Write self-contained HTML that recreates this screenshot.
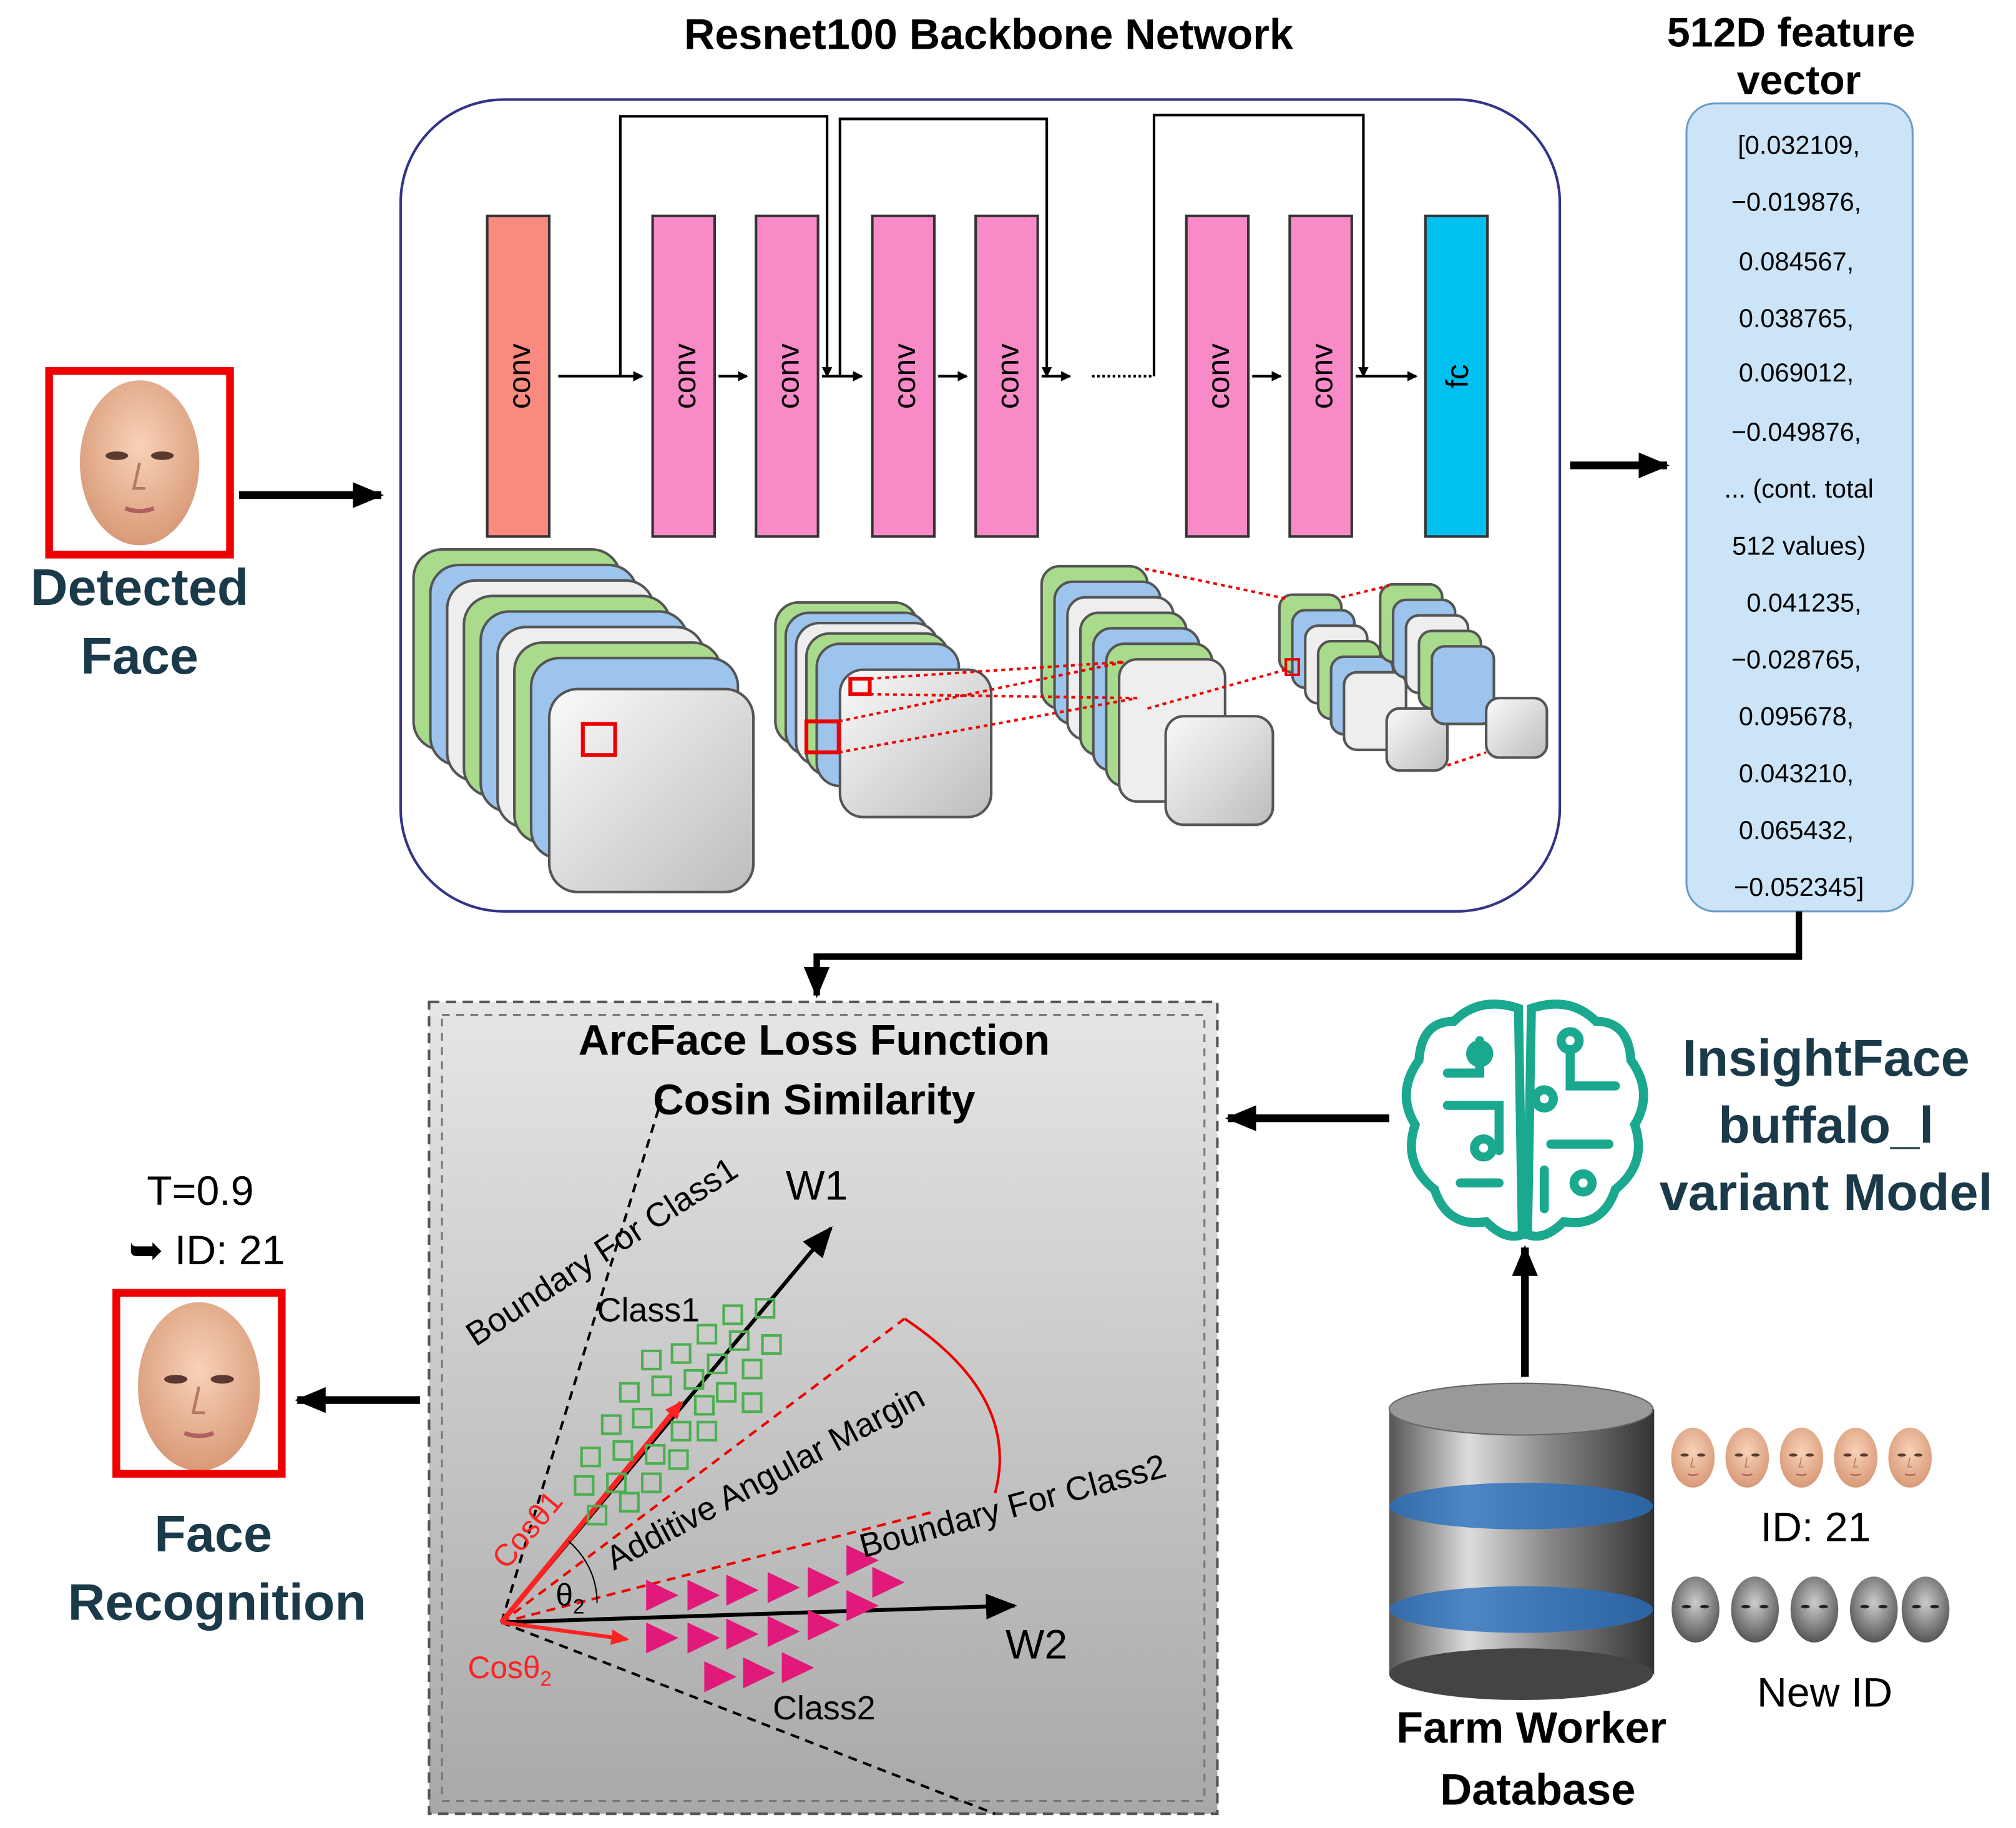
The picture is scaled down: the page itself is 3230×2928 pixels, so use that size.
<!DOCTYPE html>
<html><head><meta charset="utf-8"><style>
html,body{margin:0;padding:0;background:#fff;}
svg{display:block;}
text{font-family:"Liberation Sans",Arial,sans-serif;}
</style></head><body>
<svg width="3230" height="2928" viewBox="0 0 1560 1414" preserveAspectRatio="none" xmlns="http://www.w3.org/2000/svg">
<defs>
<marker id="ah" markerWidth="8" markerHeight="8" refX="7" refY="4" orient="auto" markerUnits="userSpaceOnUse"><path d="M0,0 L8,4 L0,8 z" fill="#000"/></marker>
<marker id="ahr" markerWidth="14" markerHeight="12" refX="12" refY="6" orient="auto" markerUnits="userSpaceOnUse"><path d="M0,0 L14,6 L0,12 z" fill="#f22"/></marker>
<marker id="ahb" markerWidth="24" markerHeight="20" refX="22" refY="10" orient="auto" markerUnits="userSpaceOnUse"><path d="M0,0 L24,10 L0,20 z" fill="#000"/></marker>
<linearGradient id="gbox" x1="0" y1="0" x2="0" y2="1"><stop offset="0" stop-color="#e6e6e6"/><stop offset="1" stop-color="#a8a8a8"/></linearGradient>
<linearGradient id="gmap" x1="0" y1="0" x2="1" y2="1"><stop offset="0" stop-color="#fafafa"/><stop offset="1" stop-color="#bdbdbd"/></linearGradient>
<linearGradient id="gdb" x1="0" y1="0" x2="1" y2="0"><stop offset="0" stop-color="#555"/><stop offset=".3" stop-color="#ddd"/><stop offset=".6" stop-color="#888"/><stop offset="1" stop-color="#333"/></linearGradient>
<radialGradient id="skin" cx=".5" cy=".4" r=".6"><stop offset="0" stop-color="#f8d2b8"/><stop offset="1" stop-color="#d89a78"/></radialGradient>
<radialGradient id="grey" cx=".5" cy=".4" r=".6"><stop offset="0" stop-color="#ccc"/><stop offset="1" stop-color="#555"/></radialGradient>
<symbol id="face" viewBox="0 0 100 120"><ellipse cx="50" cy="60" rx="42" ry="58" fill="url(#skin)"/><ellipse cx="34" cy="55" rx="8" ry="3" fill="#5a3a30"/><ellipse cx="66" cy="55" rx="8" ry="3" fill="#5a3a30"/><path d="M50 60 L46 78 L54 78" fill="none" stroke="#b57a5e" stroke-width="2"/><path d="M40 92 Q50 96 60 92" stroke="#b06060" stroke-width="3" fill="none"/></symbol>
<symbol id="gface" viewBox="0 0 100 120"><ellipse cx="50" cy="60" rx="42" ry="58" fill="url(#grey)"/><ellipse cx="34" cy="55" rx="8" ry="3" fill="#222"/><ellipse cx="66" cy="55" rx="8" ry="3" fill="#222"/></symbol>
</defs>

<!-- Titles -->
<text x="765" y="38" font-size="33" font-weight="bold" text-anchor="middle">Resnet100 Backbone Network</text>
<text x="1386" y="36" font-size="32" font-weight="bold" text-anchor="middle">512D feature</text>
<text x="1392" y="73" font-size="32" font-weight="bold" text-anchor="middle">vector</text>

<!-- Backbone box -->
<rect x="310" y="77" width="897" height="628" rx="80" fill="#fff" stroke="#33338a" stroke-width="2"/>

<!-- skip connections -->
<g stroke="#000" stroke-width="2" fill="none">
<path d="M480 291 V90 H640 V291" marker-end="url(#ah)"/>
<path d="M650 291 V92 H810 V291" marker-end="url(#ah)"/>
<path d="M893 291 V89 H1055 V291" marker-end="url(#ah)"/>
<path d="M432 291 H497" marker-end="url(#ah)"/>
<path d="M556 291 H578" marker-end="url(#ah)"/>
<path d="M636 291 H667" marker-end="url(#ah)"/>
<path d="M726 291 H748" marker-end="url(#ah)"/>
<path d="M806 291 H828" marker-end="url(#ah)"/>
<path d="M845 291 H892" stroke-dasharray="2 2"/>
<path d="M969 291 H991" marker-end="url(#ah)"/>
<path d="M1049 291 H1096" marker-end="url(#ah)"/>
</g>
<!-- conv bars -->
<g stroke="#333" stroke-width="2">
<rect x="377" y="167" width="48" height="248" fill="#fa8a80"/>
<rect x="505" y="167" width="48" height="248" fill="#f98ac8"/>
<rect x="585" y="167" width="48" height="248" fill="#f98ac8"/>
<rect x="675" y="167" width="48" height="248" fill="#f98ac8"/>
<rect x="755" y="167" width="48" height="248" fill="#f98ac8"/>
<rect x="918" y="167" width="48" height="248" fill="#f98ac8"/>
<rect x="998" y="167" width="48" height="248" fill="#f98ac8"/>
<rect x="1103" y="167" width="48" height="248" fill="#00c0f0"/>
</g>
<g font-size="24" text-anchor="middle">
<text transform="translate(410,291) rotate(-90)">conv</text>
<text transform="translate(538,291) rotate(-90)">conv</text>
<text transform="translate(618,291) rotate(-90)">conv</text>
<text transform="translate(708,291) rotate(-90)">conv</text>
<text transform="translate(788,291) rotate(-90)">conv</text>
<text transform="translate(951,291) rotate(-90)">conv</text>
<text transform="translate(1031,291) rotate(-90)">conv</text>
<text transform="translate(1136,291) rotate(-90)">fc</text>
</g>

<!-- feature maps -->
<g stroke-width="2">
<g stroke="#555">
<rect x="320" y="425" width="160" height="155" rx="22" fill="#a8dc8c"/>
<rect x="333" y="437" width="160" height="155" rx="22" fill="#9cc4ec"/>
<rect x="346" y="449" width="160" height="155" rx="22" fill="#eee"/>
<rect x="359" y="461" width="160" height="155" rx="22" fill="#a8dc8c"/>
<rect x="372" y="473" width="160" height="155" rx="22" fill="#9cc4ec"/>
<rect x="385" y="485" width="160" height="155" rx="22" fill="#eee"/>
<rect x="398" y="497" width="160" height="155" rx="22" fill="#a8dc8c"/>
<rect x="411" y="509" width="160" height="155" rx="22" fill="#9cc4ec"/>
<rect x="425" y="533" width="158" height="157" rx="22" fill="url(#gmap)"/>
</g>
<rect x="451" y="560" width="25" height="24" fill="none" stroke="#e00" stroke-width="3"/>
<g stroke="#555">
<rect x="600" y="466" width="110" height="110" rx="18" fill="#a8dc8c"/>
<rect x="608" y="474" width="110" height="110" rx="18" fill="#9cc4ec"/>
<rect x="616" y="482" width="110" height="110" rx="18" fill="#eee"/>
<rect x="624" y="490" width="110" height="110" rx="18" fill="#a8dc8c"/>
<rect x="632" y="498" width="110" height="110" rx="18" fill="#9cc4ec"/>
<rect x="650" y="518" width="117" height="114" rx="18" fill="url(#gmap)"/>
</g>
<rect x="624" y="558" width="25" height="24" fill="none" stroke="#e00" stroke-width="3"/>
<rect x="658" y="525" width="15" height="12" fill="none" stroke="#e00" stroke-width="3"/>
<g stroke="#555">
<rect x="806" y="438" width="82" height="110" rx="14" fill="#a8dc8c"/>
<rect x="816" y="450" width="82" height="110" rx="14" fill="#9cc4ec"/>
<rect x="826" y="462" width="82" height="110" rx="14" fill="#eee"/>
<rect x="836" y="474" width="82" height="110" rx="14" fill="#a8dc8c"/>
<rect x="846" y="486" width="82" height="110" rx="14" fill="#9cc4ec"/>
<rect x="856" y="498" width="82" height="110" rx="14" fill="#a8dc8c"/>
<rect x="866" y="510" width="82" height="110" rx="14" fill="#eee"/>
<rect x="902" y="554" width="83" height="84" rx="14" fill="url(#gmap)"/>
</g>
<g stroke="#555">
<rect x="990" y="460" width="48" height="60" rx="10" fill="#a8dc8c"/>
<rect x="1000" y="472" width="48" height="60" rx="10" fill="#9cc4ec"/>
<rect x="1010" y="484" width="48" height="60" rx="10" fill="#eee"/>
<rect x="1020" y="496" width="48" height="60" rx="10" fill="#a8dc8c"/>
<rect x="1030" y="508" width="48" height="60" rx="10" fill="#9cc4ec"/>
<rect x="1040" y="520" width="48" height="60" rx="10" fill="#eee"/>
<rect x="1073" y="548" width="47" height="48" rx="10" fill="url(#gmap)"/>
<rect x="1068" y="452" width="48" height="60" rx="10" fill="#a8dc8c"/>
<rect x="1078" y="464" width="48" height="60" rx="10" fill="#9cc4ec"/>
<rect x="1088" y="476" width="48" height="60" rx="10" fill="#eee"/>
<rect x="1098" y="488" width="48" height="60" rx="10" fill="#a8dc8c"/>
<rect x="1108" y="500" width="48" height="60" rx="10" fill="#9cc4ec"/>
<rect x="1150" y="540" width="47" height="46" rx="10" fill="url(#gmap)"/>
</g>
<g stroke="#e00" stroke-dasharray="3 3" fill="none" stroke-width="2">
<path d="M673 525 L870 512 M649 582 L880 540 M649 558 L870 512 M673 537 L880 540"/>
<path d="M886 440 L995 463 M888 548 L995 518 M1038 462 L1075 453 M1120 592 L1150 582"/>
</g>
<rect x="995" y="510" width="10" height="12" fill="none" stroke="#e00" stroke-width="2"/>
</g>

<!-- Feature vector -->
<rect x="1305" y="80" width="175" height="625" rx="22" fill="#cce4f7" stroke="#6e9cc8" stroke-width="1.5"/>
<g font-size="20" text-anchor="middle">
<text x="1392" y="119">[0.032109,</text>
<text x="1390" y="163">−0.019876,</text>
<text x="1390" y="209">0.084567,</text>
<text x="1390" y="253">0.038765,</text>
<text x="1390" y="295">0.069012,</text>
<text x="1390" y="341">−0.049876,</text>
<text x="1392" y="385">... (cont. total</text>
<text x="1392" y="429">512 values)</text>
<text x="1396" y="473">0.041235,</text>
<text x="1390" y="517">−0.028765,</text>
<text x="1390" y="561">0.095678,</text>
<text x="1390" y="605">0.043210,</text>
<text x="1390" y="649">0.065432,</text>
<text x="1392" y="693">−0.052345]</text>
</g>
<line x1="1215" y1="360" x2="1290" y2="360" stroke="#000" stroke-width="6" marker-end="url(#ahb)"/>

<!-- detected face -->
<use href="#face" x="45" y="292" width="126" height="132"/>
<rect x="38" y="287" width="140" height="142" fill="none" stroke="#e00" stroke-width="6"/>
<text x="108" y="468" font-size="40" font-weight="bold" fill="#1a3a4a" text-anchor="middle">Detected</text>
<text x="108" y="521" font-size="40" font-weight="bold" fill="#1a3a4a" text-anchor="middle">Face</text>
<line x1="185" y1="383" x2="295" y2="383" stroke="#000" stroke-width="6" marker-end="url(#ahb)"/>

<!-- connector to arcface -->
<path d="M1392 705 V740 H632 V770" fill="none" stroke="#000" stroke-width="5" marker-end="url(#ahb)"/>

<!-- ArcFace box -->
<rect x="332" y="775" width="610" height="628" fill="url(#gbox)" stroke="#555" stroke-width="2" stroke-dasharray="8 5"/>
<rect x="342" y="785" width="590" height="608" fill="none" stroke="#777" stroke-width="1.5" stroke-dasharray="6 5"/>
<text x="630" y="816" font-size="33" font-weight="bold" text-anchor="middle">ArcFace Loss Function</text>
<text x="630" y="862" font-size="33" font-weight="bold" text-anchor="middle">Cosin Similarity</text>
<g fill="none" stroke-width="2">
<path d="M388 1255 L512 850" stroke="#000" stroke-dasharray="7 5"/>
<path d="M388 1255 L770 1403" stroke="#000" stroke-dasharray="7 5"/>
<path d="M388 1255 L700 1020" stroke="#e00" stroke-dasharray="7 5"/>
<path d="M388 1255 L720 1170" stroke="#e00" stroke-dasharray="7 5"/>
<path d="M700 1020 Q790 1080 770 1155" stroke="#e00"/>
<path d="M388 1255 L643 950" stroke="#000" stroke-width="3" marker-end="url(#ahb)"/>
<path d="M388 1255 L785 1242" stroke="#000" stroke-width="3" marker-end="url(#ahb)"/>
<path d="M388 1255 L527 1085" stroke="#f22" stroke-width="4" marker-end="url(#ahr)"/>
<path d="M388 1255 L485 1268" stroke="#f22" stroke-width="3" marker-end="url(#ahr)"/>
<path d="M440 1192 Q462 1212 462 1240" stroke="#000" stroke-width="1"/>
</g>
<g stroke="#4caf50" stroke-width="2" fill="none">
<rect x="585" y="1005" width="14" height="14"/><rect x="560" y="1010" width="14" height="14"/><rect x="540" y="1025" width="14" height="14"/><rect x="565" y="1030" width="14" height="14"/><rect x="590" y="1033" width="14" height="14"/>
<rect x="497" y="1045" width="14" height="14"/><rect x="520" y="1040" width="14" height="14"/><rect x="548" y="1048" width="14" height="14"/><rect x="575" y="1052" width="14" height="14"/>
<rect x="480" y="1070" width="14" height="14"/><rect x="505" y="1065" width="14" height="14"/><rect x="530" y="1060" width="14" height="14"/><rect x="555" y="1070" width="14" height="14"/><rect x="575" y="1078" width="14" height="14"/>
<rect x="466" y="1095" width="14" height="14"/><rect x="490" y="1090" width="14" height="14"/><rect x="538" y="1080" width="14" height="14"/><rect x="520" y="1100" width="14" height="14"/><rect x="540" y="1100" width="14" height="14"/>
<rect x="450" y="1120" width="14" height="14"/><rect x="475" y="1115" width="14" height="14"/><rect x="500" y="1118" width="14" height="14"/><rect x="518" y="1122" width="14" height="14"/>
<rect x="445" y="1142" width="14" height="14"/><rect x="470" y="1140" width="14" height="14"/><rect x="497" y="1140" width="14" height="14"/>
<rect x="455" y="1165" width="14" height="14"/><rect x="480" y="1155" width="14" height="14"/>
</g>
<g fill="#e0197a">
<path d="M500 1222 l25 12 l-25 12z"/><path d="M532 1222 l25 12 l-25 12z"/><path d="M562 1218 l25 12 l-25 12z"/><path d="M594 1216 l25 12 l-25 12z"/><path d="M625 1212 l25 12 l-25 12z"/><path d="M655 1195 l25 12 l-25 12z"/><path d="M675 1212 l25 12 l-25 12z"/>
<path d="M500 1255 l25 12 l-25 12z"/><path d="M532 1255 l25 12 l-25 12z"/><path d="M562 1252 l25 12 l-25 12z"/><path d="M594 1250 l25 12 l-25 12z"/><path d="M625 1245 l25 12 l-25 12z"/><path d="M655 1230 l25 12 l-25 12z"/>
<path d="M545 1285 l25 12 l-25 12z"/><path d="M575 1282 l25 12 l-25 12z"/><path d="M605 1278 l25 12 l-25 12z"/>
</g>
<g font-size="26">
<text transform="translate(368,1042) rotate(-33)">Boundary For Class1</text>
<text x="608" y="928" font-size="32">W1</text>
<text x="462" y="1022">Class1</text>
<text transform="translate(475,1215) rotate(-28)">Additive Angular Margin</text>
<text transform="translate(668,1205) rotate(-15)">Boundary For Class2</text>
<text x="778" y="1283" font-size="32">W2</text>
<text x="598" y="1330">Class2</text>
<text transform="translate(392,1215) rotate(-50)" fill="#f22" font-size="24">Cosθ1</text>
<text x="430" y="1242" font-size="24">θ<tspan font-size="16" dy="6">2</tspan></text>
<text x="362" y="1298" fill="#f22" font-size="24">Cosθ<tspan font-size="16" dy="6">2</tspan></text>
</g>

<!-- Face recognition -->
<line x1="325" y1="1083" x2="230" y2="1083" stroke="#000" stroke-width="6" marker-end="url(#ahb)"/>
<use href="#face" x="82" y="1005" width="144" height="135"/>
<rect x="90" y="1000" width="128" height="140" fill="none" stroke="#e00" stroke-width="6"/>
<text x="155" y="932" font-size="32" text-anchor="middle">T=0.9</text>
<text x="160" y="978" font-size="32" text-anchor="middle">➥ ID: 21</text>
<text x="165" y="1200" font-size="40" font-weight="bold" fill="#1a3a4a" text-anchor="middle">Face</text>
<text x="168" y="1253" font-size="40" font-weight="bold" fill="#1a3a4a" text-anchor="middle">Recognition</text>

<!-- InsightFace -->
<line x1="1075" y1="865" x2="950" y2="865" stroke="#000" stroke-width="6" marker-end="url(#ahb)"/>
<g stroke="#1aa88f" stroke-width="7" fill="none" stroke-linecap="round">
<path d="M1175 780 Q1145 770 1125 790 Q1100 790 1098 820 Q1080 845 1095 870 Q1085 900 1110 920 Q1120 950 1150 945 Q1165 960 1178 955 Z"/>
<path d="M1185 780 Q1215 770 1235 790 Q1260 790 1262 820 Q1280 845 1265 870 Q1275 900 1250 920 Q1240 950 1210 945 Q1195 960 1182 955 Z"/>
<path d="M1145 805 V830 H1120"/><circle cx="1145" cy="815" r="7"/><path d="M1120 855 H1160 V890"/><circle cx="1148" cy="888" r="7"/><path d="M1130 915 H1160"/>
<circle cx="1215" cy="805" r="7"/><path d="M1215 812 V840 H1250"/><circle cx="1195" cy="850" r="7"/><path d="M1200 885 H1245"/><circle cx="1225" cy="915" r="7"/><path d="M1195 905 V935"/>
</g>
<text x="1413" y="832" font-size="40" font-weight="bold" fill="#1a3a4a" text-anchor="middle">InsightFace</text>
<text x="1413" y="884" font-size="40" font-weight="bold" fill="#1a3a4a" text-anchor="middle">buffalo_l</text>
<text x="1413" y="936" font-size="40" font-weight="bold" fill="#1a3a4a" text-anchor="middle">variant Model</text>

<!-- Database -->
<line x1="1180" y1="1065" x2="1180" y2="965" stroke="#000" stroke-width="6" marker-end="url(#ahb)"/>
<g>
<rect x="1075" y="1090" width="205" height="205" fill="url(#gdb)"/>
<ellipse cx="1177" cy="1295" rx="102" ry="20" fill="#444"/>
<ellipse cx="1177" cy="1165" rx="102" ry="18" fill="#2a6fbf" opacity=".8"/>
<ellipse cx="1177" cy="1245" rx="102" ry="18" fill="#2a6fbf" opacity=".8"/>
<ellipse cx="1177" cy="1090" rx="102" ry="20" fill="#999" stroke="#666"/>
</g>
<text x="1185" y="1348" font-size="34" font-weight="bold" text-anchor="middle">Farm Worker</text>
<text x="1190" y="1396" font-size="34" font-weight="bold" text-anchor="middle">Database</text>

<use href="#face" x="1290" y="1090" width="40" height="75"/><use href="#face" x="1332" y="1090" width="40" height="75"/><use href="#face" x="1374" y="1090" width="40" height="75"/><use href="#face" x="1416" y="1090" width="40" height="75"/><use href="#face" x="1458" y="1090" width="40" height="75"/>
<text x="1405" y="1192" font-size="32" text-anchor="middle">ID: 21</text>
<use href="#gface" x="1290" y="1205" width="44" height="80"/><use href="#gface" x="1336" y="1205" width="44" height="80"/><use href="#gface" x="1382" y="1205" width="44" height="80"/><use href="#gface" x="1428" y="1205" width="44" height="80"/><use href="#gface" x="1468" y="1205" width="44" height="80"/>
<text x="1412" y="1320" font-size="32" text-anchor="middle">New ID</text>
</svg>
</body></html>
